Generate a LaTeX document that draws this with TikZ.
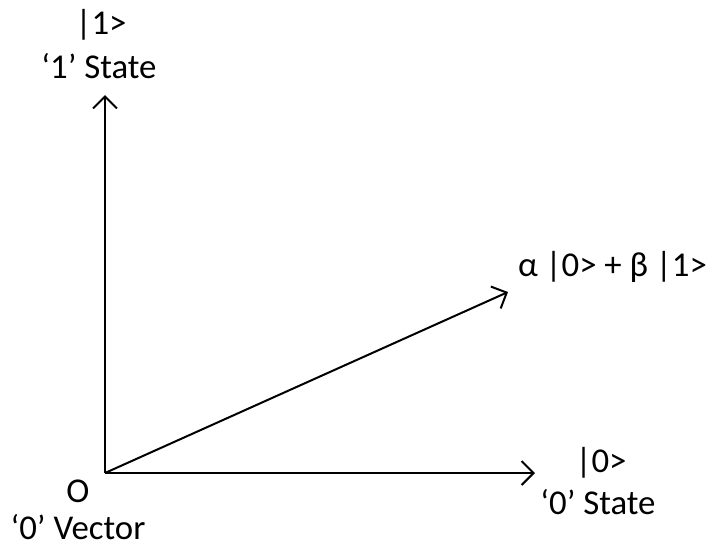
\documentclass[tikz,border=0pt]{standalone}
\usepackage{fontspec}
\setmainfont{Carlito}
\usetikzlibrary{arrows.meta}
\begin{document}
\begin{tikzpicture}[x=0.5pt, y=-0.5pt, line width=1pt, font=\fontsize{17.4}{20}\selectfont,
    vec/.style={-{Straight Barb[length=6pt, width=12pt, line width=1pt]}},
    lbl/.style={inner sep=0pt}]
        \useasboundingbox (0,0) rectangle (706,548);
        % Nodes
        \coordinate (origin) at (105,473);
        \coordinate (ytip) at (105,95);
        \coordinate (xtip) at (535,473);
        \coordinate (psitip) at (508,292);
        \node (ket1) [lbl] at (101,25) {|1>};
        \node (state1) [lbl] at (99,66) {‘1’ State};
        \node (psi) [lbl, anchor=west] at (517,267) {α |0> + β |1>};
        \node (ket0) [lbl] at (601,463) {|0>};
        \node (state0) [lbl] at (598,502) {‘0’ State};
        \node (orig) [lbl] at (78,491) {O};
        \node (vector0) [lbl] at (78,527) {‘0’ Vector};

        % Edges
        \draw[vec] (origin) -- (ytip);
        \draw[vec] (origin) -- (xtip);
        \draw[vec] (origin) -- (psitip);
    \end{tikzpicture}
\end{document}
